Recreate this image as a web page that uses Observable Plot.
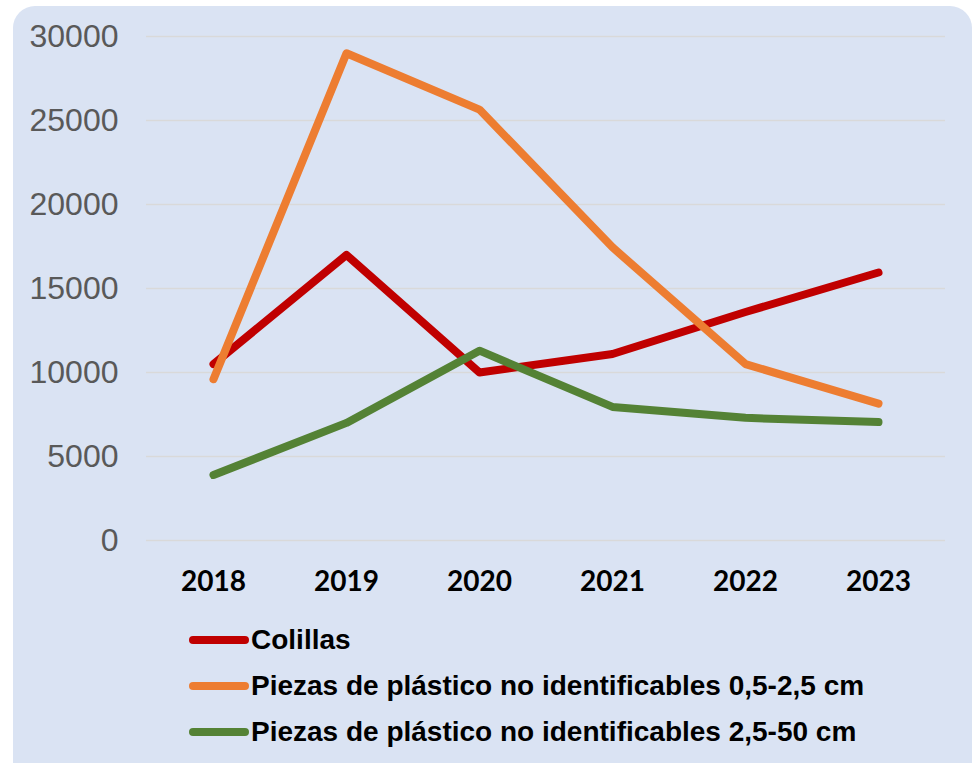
<!DOCTYPE html>
<html>
<head>
<meta charset="utf-8">
<script src="https://cdn.jsdelivr.net/npm/d3@7"></script>
<script src="https://cdn.jsdelivr.net/npm/@observablehq/plot@0.6"></script>
<style>
  html, body { margin: 0; padding: 0; background: #ffffff; width: 975px; height: 763px; overflow: hidden; }
  #panel { position: absolute; left: 13px; top: 6px; width: 959px; height: 790px; background: #dae3f3; border-radius: 22px; }
  #chart { position: absolute; left: 0; top: 0; }
  #legend { position: absolute; left: 189px; top: 617px; font-family: "Liberation Sans", Arial, sans-serif; font-weight: bold; font-size: 28px; color: #000; }
  .item { display: flex; align-items: center; height: 46px; }
  .sw { width: 60px; height: 8px; border-radius: 4px; margin-right: 2px; }
</style>
</head>
<body>
<div id="panel"></div>
<div id="chart"></div>
<div id="legend"></div>
<script>
const years = ["2018", "2019", "2020", "2021", "2022", "2023"];
const seriesNames = [
  "Colillas",
  "Piezas de plástico no identificables 0,5-2,5 cm",
  "Piezas de plástico no identificables 2,5-50 cm"
];
const colillas = [10500, 17000, 10000, 11100, 13600, 15950];
const piezas05 = [9600, 29000, 25650, 17450, 10500, 8150];
const piezas25 = [3900, 7000, 11300, 7950, 7300, 7050];
const colors = ["#c00000", "#ed7d31", "#548235"];
const yTicks = [0, 5000, 10000, 15000, 20000, 25000, 30000];

const allSeries = [colillas, piezas05, piezas25];
const data = [];
allSeries.forEach((vals, s) => vals.forEach((v, i) => data.push({year: years[i], value: v, series: seriesNames[s]})));

const chart = Plot.plot({
  width: 975,
  height: 610,
  marginLeft: 146,
  marginRight: 30,
  marginTop: 36,
  marginBottom: 70,
  style: { background: "transparent", overflow: "visible" },
  x: { type: "point", domain: years, padding: 0.5, label: null },
  y: { domain: [0, 30000], label: null },
  color: { domain: seriesNames, range: colors },
  marks: [
    Plot.gridY(yTicks, { stroke: "#d9d9d9", strokeOpacity: 1, strokeWidth: 1.5 }),
    Plot.axisY(yTicks, {
      tickSize: 0, tickPadding: 28, label: null,
      tickFormat: d => String(d),
      fontSize: 32, fill: "#595959",
      fontFamily: "Liberation Sans, Arial, sans-serif"
    }),
    Plot.axisX({
      tickSize: 0, tickPadding: 31, label: null,
      fontSize: 28, fontWeight: "bold", fill: "#000",
      fontFamily: "Lato, sans-serif"
    }),
    Plot.line(data, {
      x: "year", y: "value", z: "series", stroke: "series",
      strokeWidth: 8, strokeLinecap: "round", strokeLinejoin: "round"
    })
  ]
});
document.getElementById("chart").appendChild(chart);

const legend = document.getElementById("legend");
seriesNames.forEach((name, i) => {
  const item = document.createElement("div");
  item.className = "item";
  const sw = document.createElement("span");
  sw.className = "sw";
  sw.style.background = colors[i];
  const t = document.createElement("span");
  t.textContent = name;
  item.appendChild(sw);
  item.appendChild(t);
  legend.appendChild(item);
});
</script>
</body>
</html>
